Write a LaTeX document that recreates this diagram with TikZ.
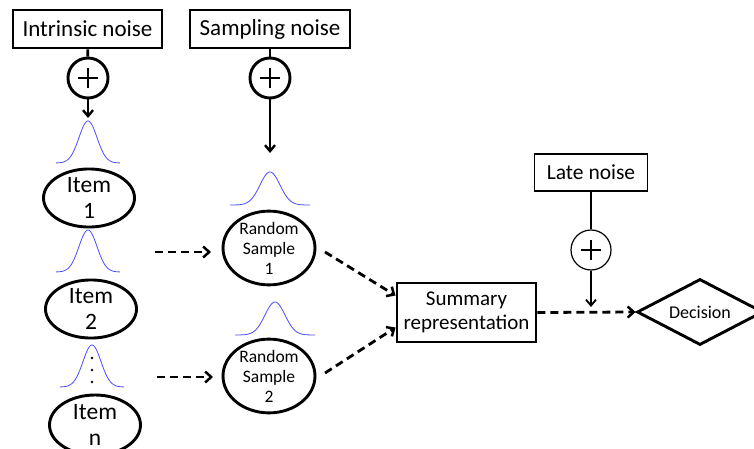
\documentclass[tikz,border=0pt]{standalone}
\usepackage{fontspec}
\setmainfont{Carlito}
\usetikzlibrary{shapes.geometric,arrows.meta,calc}
\begin{document}
\begin{tikzpicture}[x=1pt,y=-1pt,
  thickbox/.style={draw,line width=2.9pt,rectangle,inner sep=0pt},
  thinbox/.style={draw,line width=1.2pt,rectangle,inner sep=0pt},
  oval/.style={draw,line width=2.9pt,ellipse,inner sep=0pt,align=center},
  pluscirc/.style={draw,circle,minimum size=40pt,inner sep=0pt},
  arr/.style={-{Straight Barb[length=6pt,width=10pt,line width=2.4pt]}},
  darr/.style={line width=2.8pt,dash pattern=on 8pt off 5pt,-{Straight Barb[length=6pt,width=11pt,line width=2.5pt]}},
  gauss/.style={draw=blue!70!white,line width=0.8pt},
  big/.style={font=\fontsize{23}{27}\selectfont},
]
\useasboundingbox (0,0) rectangle (754,449);
% top boxes
\node[thickbox,big,minimum width=149pt,minimum height=38pt] (intr) at (87.5,29) {Intrinsic noise};
\node[thickbox,big,minimum width=160pt,minimum height=38pt] (samp) at (270,29) {Sampling noise};
\node[pluscirc,line width=2.9pt] (c1) at (88,78) {};
\node[pluscirc,line width=2.9pt] (c2) at (270,78) {};
\foreach \c in {c1,c2}{
  \draw[line width=1.8pt] ($(\c.center)+(-10,0)$) -- ($(\c.center)+(10,0)$);
  \draw[line width=1.8pt] ($(\c.center)+(0,-10)$) -- ($(\c.center)+(0,10)$);
}
\coordinate (e1) at (88,118);
\coordinate (e2) at (270,153);
\draw[line width=2.9pt] (intr) -- (c1);
\draw[line width=2.9pt] (samp) -- (c2);
\draw[line width=2.9pt,arr] (c1) -- (e1);
\draw[line width=2.9pt,arr] (c2) -- (e2);
% gaussians
\foreach \cx/\by/\h/\w/\s in {88/163/42/32/9, 88/272/42/32/9, 92/387/42/32/9, 270/205/33/40/10, 275/335/33/40/10}{
  \draw[gauss] plot[domain=-\w:\w,samples=70,smooth] ({\cx+\x},{\by-\h*exp(-(\x*\x)/(2*\s*\s))});
}
\foreach \yy in {358,370,382}{\fill (92,\yy) circle (1.4pt);}
% items
\node[oval,big,font=\fontsize{23.5}{27}\selectfont,minimum width=91pt,minimum height=57pt] (it1) at (89,198) {Item\\[-1pt]1};
\node[oval,big,font=\fontsize{23.5}{27}\selectfont,minimum width=91pt,minimum height=57pt] (it2) at (91,309) {Item\\[-1pt]2};
\node[oval,big,font=\fontsize{23.5}{27}\selectfont,minimum width=91pt,minimum height=60pt] (itn) at (95,425) {Item\\[-1pt]n};
% random samples
\node[oval,font=\fontsize{17.5}{20}\selectfont,minimum width=92pt,minimum height=70pt] (rs1) at (269,248) {Random\\Sample\\1};
\node[oval,font=\fontsize{17.5}{20}\selectfont,minimum width=92pt,minimum height=68pt] (rs2) at (269,376) {Random\\Sample\\2};
\coordinate (a1s) at (155,252);
\coordinate (a1e) at (211,252);
\coordinate (a2s) at (157,377);
\coordinate (a2e) at (213,377);
\draw[darr] (a1s) -- (a1e);
\draw[darr] (a2s) -- (a2e);
% summary
\node[thickbox,font=\fontsize{21}{24}\selectfont,align=center,minimum width=139pt,minimum height=59pt] (sum) at (466.5,312.5) {Summary\\representation};
\coordinate (b1s) at (325,252);
\coordinate (b2s) at (325,373);
\draw[darr] (b1s) -- ($(sum.west)+(0,-17)$);
\draw[darr] (b2s) -- ($(sum.west)+(0,15)$);
% late noise
\node[thinbox,font=\fontsize{21.5}{25}\selectfont,minimum width=113pt,minimum height=37pt] (late) at (591,172.5) {Late noise};
\node[pluscirc,line width=1.2pt] (c3) at (591,250) {};
\draw[line width=1.4pt] ($(c3.center)+(-10,0)$) -- ($(c3.center)+(10,0)$);
\draw[line width=1.4pt] ($(c3.center)+(0,-10)$) -- ($(c3.center)+(0,10)$);
\coordinate (e3) at (591,307);
\draw[line width=1.2pt] (late) -- (c3);
\draw[line width=1.2pt,-{Straight Barb[length=6pt,width=10pt,line width=1.8pt]}] (c3) -- (e3);
% decision
\node[draw,diamond,line width=2.9pt,aspect=1.9,minimum width=126pt,minimum height=66pt,inner sep=0pt,font=\fontsize{18}{22}\selectfont] (dec) at (700,312) {Decision};
\draw[darr] (sum.east) -- (dec.west);
\end{tikzpicture}
\end{document}
